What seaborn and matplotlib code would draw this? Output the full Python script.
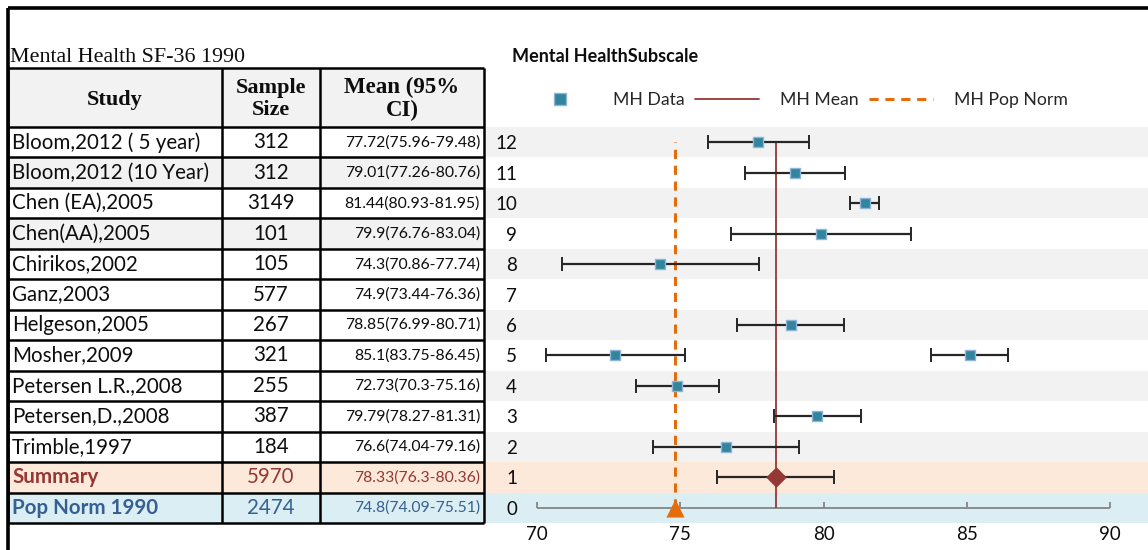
import matplotlib
matplotlib.use("Agg")
import matplotlib.pyplot as plt
from matplotlib.lines import Line2D
from matplotlib.patches import Rectangle
import seaborn as sns
import pandas as pd

# ---- data -------------------------------------------------------------
studies = ["Bloom,2012 ( 5 year)", "Bloom,2012 (10 Year)", "Chen (EA),2005",
           "Chen(AA),2005", "Chirikos,2002", "Ganz,2003", "Helgeson,2005",
           "Mosher,2009", "Petersen L.R.,2008", "Petersen,D.,2008", "Trimble,1997"]
sample_sizes = [312, 312, 3149, 101, 105, 577, 267, 321, 255, 387, 184]
means = [77.72, 79.01, 81.44, 79.9, 74.3, 74.9, 78.85, 85.1, 72.73, 79.79, 76.6]
ci_low = [75.96, 77.26, 80.93, 76.76, 70.86, 73.44, 76.99, 83.75, 70.3, 78.27, 74.04]
ci_high = [79.48, 80.76, 81.95, 83.04, 77.74, 76.36, 80.71, 86.45, 75.16, 81.31, 79.16]
# row on the forest plot where each study is placed
plot_rows = [12, 11, 10, 9, 8, 4, 6, 5, 5, 3, 2]

summary_n, summary_mean, summary_low, summary_high = 5970, 78.33, 76.3, 80.36
norm_n, norm_mean, norm_low, norm_high = 2474, 74.8, 74.09, 75.51

row_ticks = list(range(13))
x_ticks = [70, 75, 80, 85, 90]

# ---- style --------------------------------------------------------------
sns.set_theme(style="white")
plt.rcParams["font.family"] = ["Lato", "DejaVu Sans"]

C_DATA = "#31859C"
C_DATA_EDGE = "#8fb3d9"
C_MEAN = "#953735"
C_NORM = "#E46C0A"
C_GRAY = "#f2f2f2"
C_SUMM_BG = "#fde9d9"
C_NORM_BG = "#daeef3"
C_NORM_TXT = "#366092"
C_TEXT = "#0d0d0d"

W, H = 1148, 550
fig = plt.figure(figsize=(W / 100, H / 100), dpi=100)

# pixel layout helpers
top_px, bot_px = 127, 523
left_px = 486
px_per_unit = 28.65
x0_px = 537  # pixel of x=70
xmin = 70 - (x0_px - left_px) / px_per_unit
xmax = 90 + (W - 1110) / px_per_unit

ax = fig.add_axes([left_px / W, (H - bot_px) / H, (W - left_px) / W, (bot_px - top_px) / H])
ax.set_xlim(xmin, xmax)
ax.set_ylim(-0.5, 12.5)

# row bands
for r in row_ticks:
    if r == 0:
        col = C_NORM_BG
    elif r == 1:
        col = C_SUMM_BG
    elif r % 2 == 0:
        col = C_GRAY
    else:
        col = None
    if col:
        ax.axhspan(r - 0.5, r + 0.5, color=col, lw=0, zorder=0)

# axis line at row 0 with upward ticks
ax.hlines(0, x_ticks[0], x_ticks[-1], color="#8c8c8c", lw=1.4, zorder=2)
ax.vlines(x_ticks, 0, 0.2, color="#8c8c8c", lw=1.4, zorder=2)

# reference lines
ax.vlines(summary_mean, 0, 12, color=C_MEAN, lw=1.3, zorder=3)
ax.vlines(norm_mean, 0, 12, color=C_NORM, lw=2.2, linestyles=(0, (3, 2.2)), zorder=3)

# study error bars
xerr = [[m - lo for m, lo in zip(means, ci_low)], [hi - m for m, hi in zip(means, ci_high)]]
ax.errorbar(means, plot_rows, xerr=xerr, fmt="none", ecolor="#262626",
            elinewidth=1.6, capsize=5, capthick=1.4, zorder=4)
ax.errorbar([summary_mean], [1], xerr=[[summary_mean - summary_low], [summary_high - summary_mean]],
            fmt="none", ecolor="#262626", elinewidth=1.6, capsize=5, capthick=1.4, zorder=4)

df = pd.DataFrame({"mean": means, "row": plot_rows})
sns.scatterplot(data=df, x="mean", y="row", marker="s", s=60, color=C_DATA,
                edgecolor=C_DATA_EDGE, linewidth=1.0, ax=ax, zorder=5, legend=False)
ax.scatter([summary_mean], [1], marker="D", s=110, color=C_MEAN, zorder=6, linewidths=0)
ax.scatter([norm_mean], [0], marker="^", s=170, color=C_NORM, zorder=6, linewidths=0)

ax.set_xticks(x_ticks)
ax.set_xticklabels([str(t) for t in x_ticks], fontsize=13.5, color=C_TEXT)
ax.tick_params(axis="x", length=0, pad=2)
ax.set_yticks(row_ticks)
ax.set_yticklabels([str(r) for r in row_ticks], fontsize=13.5, color=C_TEXT)
ax.tick_params(axis="y", length=0, pad=-(31 * 0.72))
for s in ax.spines.values():
    s.set_visible(False)
ax.set_xlabel("")
ax.set_ylabel("")

# legend
handles = [
    Line2D([], [], marker="s", ls="none", markersize=8, markerfacecolor=C_DATA,
           markeredgecolor=C_DATA_EDGE, markeredgewidth=1.0),
    Line2D([], [], color=C_MEAN, lw=1.3),
    Line2D([], [], color=C_NORM, lw=2.2, ls=(0, (3, 2.2))),
]
fig.legend(handles, ["MH Data", "MH Mean", "MH Pop Norm"], ncol=3, frameon=False,
           loc="center", bbox_to_anchor=(798 / W, 1 - 100 / H), fontsize=12.7,
           handlelength=3.6, handletextpad=1.2, columnspacing=0.6)

fig.text(512 / W, 1 - 57 / H, "Mental HealthSubscale", fontsize=13, fontweight="bold",
         ha="left", va="center", color=C_TEXT)

# ---- table -------------------------------------------------------------
tab = fig.add_axes([0, 0, 1, 1], zorder=-1)
tab.set_xlim(0, W)
tab.set_ylim(H, 0)
tab.axis("off")

col_x = [8, 222, 320, 484]
head_top, head_bot = 68, top_px
n_rows = len(studies) + 2
pitch = (bot_px - head_bot) / n_rows
row_edges = [head_bot + i * pitch for i in range(n_rows + 1)]

# header background
tab.add_patch(Rectangle((col_x[0], head_top), col_x[-1] - col_x[0], head_bot - head_top,
                        color=C_GRAY, lw=0))
row_bgs = ["white", C_GRAY, "white", C_GRAY] + ["white"] * (len(studies) - 4) + [C_SUMM_BG, C_NORM_BG]
for i, bg in enumerate(row_bgs):
    tab.add_patch(Rectangle((col_x[0], row_edges[i]), col_x[-1] - col_x[0], pitch, color=bg, lw=0))

# grid lines
for y in [head_top] + row_edges:
    tab.plot([col_x[0], col_x[-1]], [y, y], color="black", lw=1.8, solid_capstyle="butt")
for x in col_x:
    tab.plot([x, x], [head_top, bot_px], color="black", lw=1.8, solid_capstyle="butt")

# frame around the whole sheet area
tab.plot([8, W], [8, 8], color="black", lw=2.6, solid_capstyle="butt")
tab.plot([8, 8], [8, H], color="black", lw=2.6, solid_capstyle="butt")

serif = ["Liberation Serif", "DejaVu Serif"]
tab.text(10, 58, "Mental Health SF-36 1990", fontsize=15.8, family=serif, ha="left",
         va="center", color=C_TEXT)
tab.text((col_x[0] + col_x[1]) / 2, 100, "Study", fontsize=16, family=serif,
         fontweight="bold", ha="center", va="center", color=C_TEXT)
tab.text((col_x[1] + col_x[2]) / 2, 99, "Sample\nSize", fontsize=16, family=serif,
         fontweight="bold", ha="center", va="center", linespacing=1.15, color=C_TEXT)
tab.text((col_x[2] + col_x[3]) / 2, 99, "Mean (95%\nCI)", fontsize=16.5, family=serif,
         fontweight="bold", ha="center", va="center", linespacing=1.15, color=C_TEXT)


def ci_text(m, lo, hi):
    return f"{m:g}({lo:g}-{hi:g})"


names = studies + ["Summary", "Pop Norm 1990"]
sizes = sample_sizes + [summary_n, norm_n]
ci_strings = [ci_text(m, lo, hi) for m, lo, hi in zip(means, ci_low, ci_high)]
ci_strings += [ci_text(summary_mean, summary_low, summary_high), ci_text(norm_mean, norm_low, norm_high)]
colors = [C_TEXT] * len(studies) + [C_MEAN, C_NORM_TXT]
weights = ["normal"] * len(studies) + ["bold", "bold"]

for i in range(n_rows):
    yc = row_edges[i] + pitch / 2
    tab.text(col_x[0] + 4, yc, names[i], fontsize=14.8, color=colors[i], fontweight=weights[i],
             ha="left", va="center")
    tab.text((col_x[1] + col_x[2]) / 2, yc, str(sizes[i]), fontsize=14.8, color=colors[i],
             ha="center", va="center")
    tab.text(col_x[3] - 4, yc, ci_strings[i], fontsize=11.3, color=colors[i],
             ha="right", va="center")

fig.savefig("out.png", dpi=100)
